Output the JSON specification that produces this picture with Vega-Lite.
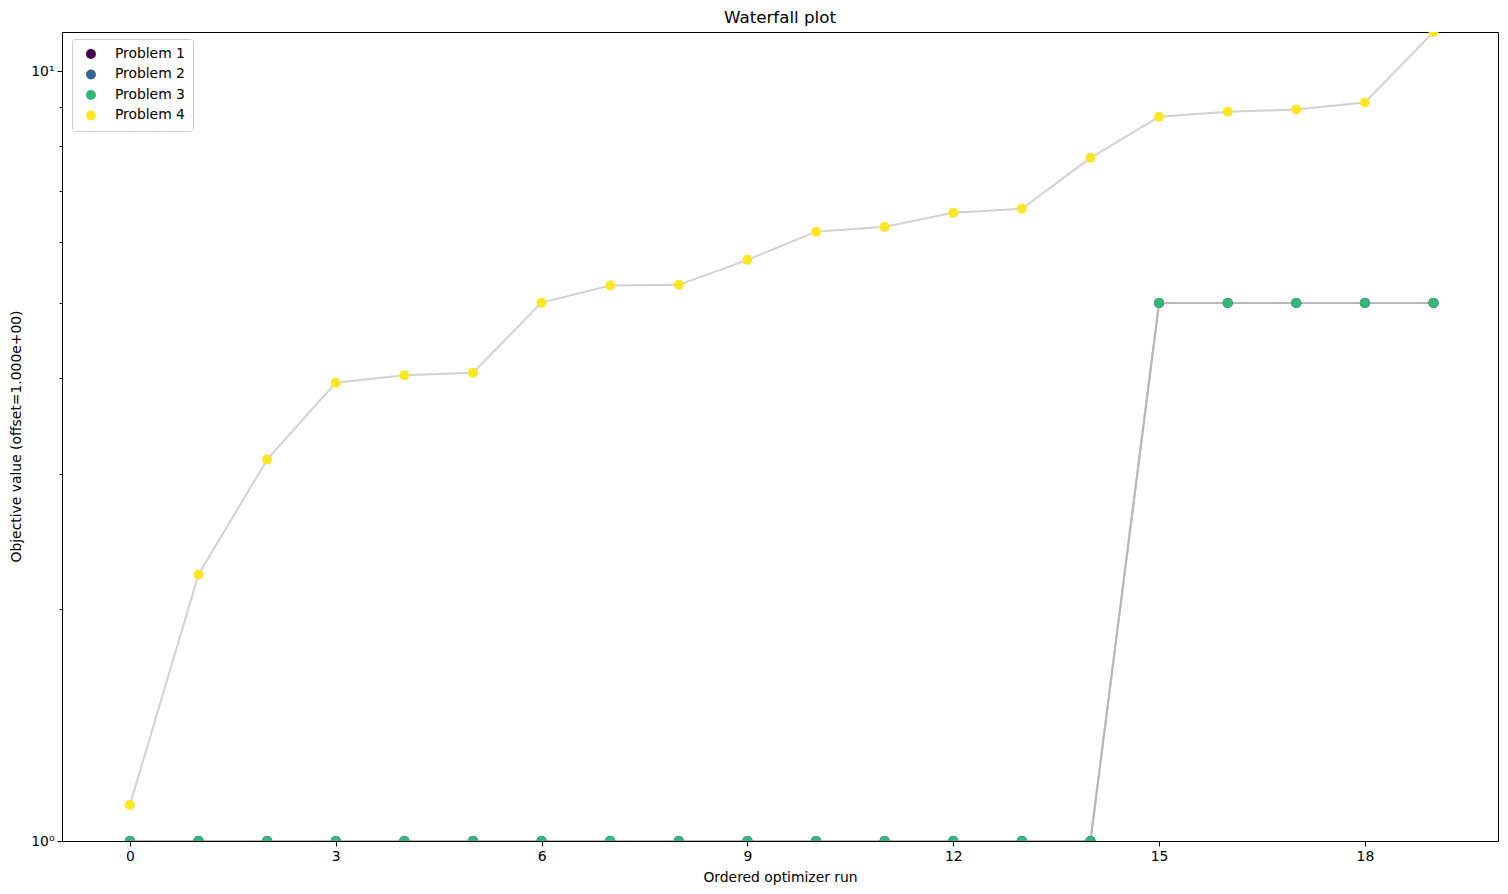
{
  "$schema": "https://vega.github.io/schema/vega-lite/v6.json",
  "description": "Waterfall plot of ordered optimizer runs",
  "width": 1436,
  "height": 809,
  "autosize": "none",
  "padding": {"left": 62, "top": 32, "right": 10, "bottom": 53},
  "title": {
    "text": "Waterfall plot",
    "fontSize": 16.7,
    "fontWeight": "normal",
    "font": "DejaVu Sans",
    "color": "black",
    "anchor": "middle",
    "offset": 5
  },
  "data": {
    "values": [
      {"problem": "Problem 1", "run": 0, "value": 1.0},
      {"problem": "Problem 1", "run": 1, "value": 1.0},
      {"problem": "Problem 1", "run": 2, "value": 1.0},
      {"problem": "Problem 1", "run": 3, "value": 1.0},
      {"problem": "Problem 1", "run": 4, "value": 1.0},
      {"problem": "Problem 1", "run": 5, "value": 1.0},
      {"problem": "Problem 1", "run": 6, "value": 1.0},
      {"problem": "Problem 1", "run": 7, "value": 1.0},
      {"problem": "Problem 1", "run": 8, "value": 1.0},
      {"problem": "Problem 1", "run": 9, "value": 1.0},
      {"problem": "Problem 1", "run": 10, "value": 1.0},
      {"problem": "Problem 1", "run": 11, "value": 1.0},
      {"problem": "Problem 1", "run": 12, "value": 1.0},
      {"problem": "Problem 1", "run": 13, "value": 1.0},
      {"problem": "Problem 1", "run": 14, "value": 1.0},
      {"problem": "Problem 1", "run": 15, "value": 5.0},
      {"problem": "Problem 1", "run": 16, "value": 5.0},
      {"problem": "Problem 1", "run": 17, "value": 5.0},
      {"problem": "Problem 1", "run": 18, "value": 5.0},
      {"problem": "Problem 1", "run": 19, "value": 5.0},
      {"problem": "Problem 2", "run": 0, "value": 1.0},
      {"problem": "Problem 2", "run": 1, "value": 1.0},
      {"problem": "Problem 2", "run": 2, "value": 1.0},
      {"problem": "Problem 2", "run": 3, "value": 1.0},
      {"problem": "Problem 2", "run": 4, "value": 1.0},
      {"problem": "Problem 2", "run": 5, "value": 1.0},
      {"problem": "Problem 2", "run": 6, "value": 1.0},
      {"problem": "Problem 2", "run": 7, "value": 1.0},
      {"problem": "Problem 2", "run": 8, "value": 1.0},
      {"problem": "Problem 2", "run": 9, "value": 1.0},
      {"problem": "Problem 2", "run": 10, "value": 1.0},
      {"problem": "Problem 2", "run": 11, "value": 1.0},
      {"problem": "Problem 2", "run": 12, "value": 1.0},
      {"problem": "Problem 2", "run": 13, "value": 1.0},
      {"problem": "Problem 2", "run": 14, "value": 1.0},
      {"problem": "Problem 2", "run": 15, "value": 5.0},
      {"problem": "Problem 2", "run": 16, "value": 5.0},
      {"problem": "Problem 2", "run": 17, "value": 5.0},
      {"problem": "Problem 2", "run": 18, "value": 5.0},
      {"problem": "Problem 2", "run": 19, "value": 5.0},
      {"problem": "Problem 3", "run": 0, "value": 1.0},
      {"problem": "Problem 3", "run": 1, "value": 1.0},
      {"problem": "Problem 3", "run": 2, "value": 1.0},
      {"problem": "Problem 3", "run": 3, "value": 1.0},
      {"problem": "Problem 3", "run": 4, "value": 1.0},
      {"problem": "Problem 3", "run": 5, "value": 1.0},
      {"problem": "Problem 3", "run": 6, "value": 1.0},
      {"problem": "Problem 3", "run": 7, "value": 1.0},
      {"problem": "Problem 3", "run": 8, "value": 1.0},
      {"problem": "Problem 3", "run": 9, "value": 1.0},
      {"problem": "Problem 3", "run": 10, "value": 1.0},
      {"problem": "Problem 3", "run": 11, "value": 1.0},
      {"problem": "Problem 3", "run": 12, "value": 1.0},
      {"problem": "Problem 3", "run": 13, "value": 1.0},
      {"problem": "Problem 3", "run": 14, "value": 1.0},
      {"problem": "Problem 3", "run": 15, "value": 5.0},
      {"problem": "Problem 3", "run": 16, "value": 5.0},
      {"problem": "Problem 3", "run": 17, "value": 5.0},
      {"problem": "Problem 3", "run": 18, "value": 5.0},
      {"problem": "Problem 3", "run": 19, "value": 5.0},
      {"problem": "Problem 4", "run": 0, "value": 1.114},
      {"problem": "Problem 4", "run": 1, "value": 2.22},
      {"problem": "Problem 4", "run": 2, "value": 3.13},
      {"problem": "Problem 4", "run": 3, "value": 3.94},
      {"problem": "Problem 4", "run": 4, "value": 4.03},
      {"problem": "Problem 4", "run": 5, "value": 4.06},
      {"problem": "Problem 4", "run": 6, "value": 5.006},
      {"problem": "Problem 4", "run": 7, "value": 5.27},
      {"problem": "Problem 4", "run": 8, "value": 5.28},
      {"problem": "Problem 4", "run": 9, "value": 5.69},
      {"problem": "Problem 4", "run": 10, "value": 6.19},
      {"problem": "Problem 4", "run": 11, "value": 6.28},
      {"problem": "Problem 4", "run": 12, "value": 6.55},
      {"problem": "Problem 4", "run": 13, "value": 6.63},
      {"problem": "Problem 4", "run": 14, "value": 7.72},
      {"problem": "Problem 4", "run": 15, "value": 8.73},
      {"problem": "Problem 4", "run": 16, "value": 8.86},
      {"problem": "Problem 4", "run": 17, "value": 8.92},
      {"problem": "Problem 4", "run": 18, "value": 9.11},
      {"problem": "Problem 4", "run": 19, "value": 11.25}
    ]
  },
  "encoding": {
    "x": {
      "field": "run",
      "type": "quantitative",
      "title": "Ordered optimizer run",
      "scale": {"domain": [-0.99, 19.94], "nice": false, "zero": false},
      "axis": {
        "values": [0, 3, 6, 9, 12, 15, 18],
        "grid": false,
        "tickSize": 5,
        "labelPadding": 3,
        "titleY": 40,
        "titleBaseline": "alphabetic"
      }
    },
    "y": {
      "field": "value",
      "type": "quantitative",
      "title": "Objective value (offset=1.000e+00)",
      "scale": {"type": "log", "domain": [1, 11.25], "nice": false, "zero": false},
      "axis": {
        "values": [1, 2, 3, 4, 5, 6, 7, 8, 9, 10],
        "labelExpr": "datum.value == 1 ? '10⁰' : datum.value == 10 ? '10¹' : ''",
        "grid": false,
        "tickSize": {"condition": {"test": "datum.value == 1 || datum.value == 10", "value": 5}, "value": 3},
        "labelPadding": 3,
        "titleX": -46,
        "titleY": 404,
        "titleBaseline": "middle",
        "titleAngle": -90
      }
    }
  },
  "layer": [
    {
      "mark": {"type": "line", "color": "#b3b3b3", "opacity": 0.6, "strokeWidth": 2, "clip": true},
      "encoding": {
        "detail": {"field": "problem", "type": "nominal"}
      }
    },
    {
      "mark": {"type": "point", "filled": true, "opacity": 1, "size": 100, "clip": true},
      "encoding": {
        "color": {
          "field": "problem",
          "type": "nominal",
          "scale": {
            "domain": ["Problem 1", "Problem 2", "Problem 3", "Problem 4"],
            "range": ["#440154", "#31688e", "#35b779", "#fde725"]
          },
          "legend": {
            "title": null,
            "orient": "none",
            "legendX": 10,
            "legendY": 7,
            "padding": 8,
            "strokeColor": "#cccccc",
            "fillColor": "white",
            "cornerRadius": 3,
            "symbolType": "circle",
            "symbolSize": 100,
            "symbolOffset": 4,
            "symbolStrokeWidth": 0,
            "labelOffset": 17,
            "labelFontSize": 13.9,
            "rowPadding": 5.5
          }
        }
      }
    }
  ],
  "config": {
    "font": "DejaVu Sans",
    "view": {"stroke": "black", "strokeWidth": 1},
    "axis": {
      "domainColor": "black",
      "tickColor": "black",
      "labelColor": "black",
      "titleColor": "black",
      "labelFontSize": 13.9,
      "titleFontSize": 13.9,
      "titleFontWeight": "normal",
      "labelFont": "DejaVu Sans",
      "titleFont": "DejaVu Sans"
    },
    "legend": {"labelColor": "black", "labelFont": "DejaVu Sans"}
  }
}
